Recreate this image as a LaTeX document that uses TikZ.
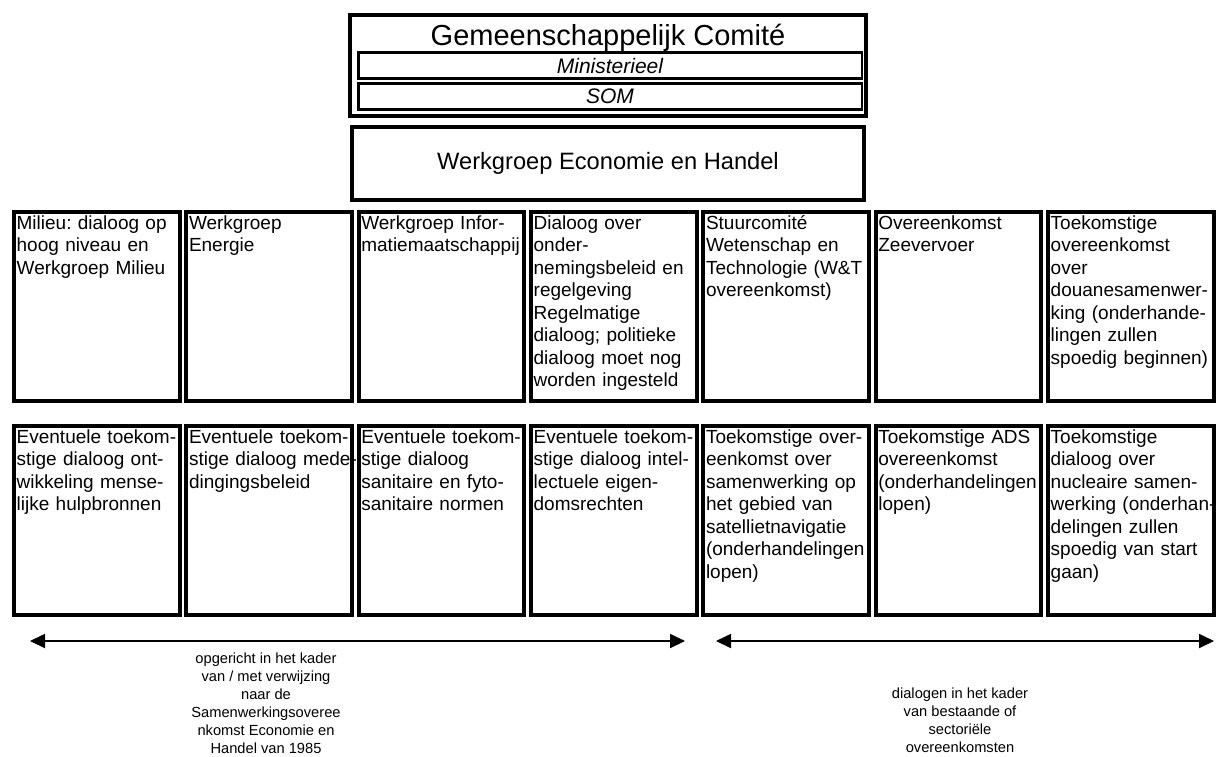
\documentclass[tikz,border=0pt]{standalone}
\usepackage{fontspec}
\setmainfont{Liberation Sans}
\usetikzlibrary{arrows.meta,positioning}

\frenchspacing

% lines of a cell, set one by one and never rebroken
\newcommand{\rows}[1]{\begin{tabular}[t]{@{}l@{}}#1\end{tabular}}

\begin{document}
\begin{tikzpicture}[
    >={Triangle[length=9pt,width=8.5pt]},
    panel/.style={
        draw,
        line width=2.4pt,
        minimum width=309.9pt,
        minimum height=60.9pt
    },
    subpanel/.style={
        draw,
        line width=1.5pt,
        minimum width=302.1pt,
        minimum height=15.5pt,
        inner sep=0pt,
        font=\fontsize{12.6}{14}\selectfont\itshape
    },
    cell/.style={
        draw,
        line width=2.4pt,
        anchor=north west,
        text width=96.2pt,
        inner xsep=1.6pt,
        inner ysep=2pt,
        text height=8.2pt,
        text depth=101.2pt,
        align=left,
        font=\fontsize{11.4}{13.5}\selectfont
    },
    note/.style={
        anchor=north,
        align=center,
        font=\fontsize{8.8}{10.8}\selectfont
    }
]

\useasboundingbox (0,0) rectangle (729.6pt,-453.6pt);

% joint committee with its two levels
\node[panel] (comite) at (364.8pt,-39.3pt) {};
\node[anchor=base, font=\fontsize{17.4}{20}\selectfont] (comitetitle)
    at ([yshift=-19.35pt]comite.north) {Gemeenschappelijk Comité};
\node[subpanel] (minister) at ([xshift=1.2pt]comite.center) {Ministerieel};
\node[subpanel, below=1.5pt of minister] (som) {SOM};

\node[panel, minimum width=307.5pt, minimum height=43.5pt,
      font=\fontsize{14.2}{16}\selectfont, below=4.2pt of comite] (handel)
    {Werkgroep Economie en Handel};

% first row
\node[cell] (m1) at (7.2pt,-126pt) {\rows{Milieu: dialoog op\\hoog niveau en\\Werkgroep Milieu}};
\node[cell, right=1.6pt of m1] (m2) {\rows{Werkgroep\\Energie}};
\node[cell, right=1.6pt of m2] (m3) {\rows{Werkgroep Infor-\\matiemaatschappij}};
\node[cell, right=1.6pt of m3] (m4) {\rows{Dialoog over\\onder-\\nemingsbeleid en\\regelgeving\\Regelmatige\\dialoog; politieke\\dialoog moet nog\\worden ingesteld}};
\node[cell, right=1.6pt of m4] (m5) {\rows{Stuurcomité\\Wetenschap en\\Technologie (W\&T\\overeenkomst)}};
\node[cell, right=1.6pt of m5] (m6) {\rows{Overeenkomst\\Zeevervoer}};
\node[cell, right=1.6pt of m6] (m7) {\rows{Toekomstige\\overeenkomst\\over\\douanesamenwer-\\king (onderhande-\\lingen zullen\\spoedig beginnen)}};

% second row
\node[cell, below=12.6pt of m1] (e1) {\rows{Eventuele toekom-\\stige dialoog ont-\\wikkeling mense-\\lijke hulpbronnen}};
\node[cell, below=12.6pt of m2] (e2) {\rows{Eventuele toekom-\\stige dialoog mede-\\dingingsbeleid}};
\node[cell, below=12.6pt of m3] (e3) {\rows{Eventuele toekom-\\stige dialoog\\sanitaire en fyto-\\sanitaire normen}};
\node[cell, below=12.6pt of m4] (e4) {\rows{Eventuele toekom-\\stige dialoog intel-\\lectuele eigen-\\domsrechten}};
\node[cell, below=12.6pt of m5] (e5) {\rows{Toekomstige over-\\eenkomst over\\samenwerking op\\het gebied van\\satellietnavigatie\\(onderhandelingen\\lopen)}};
\node[cell, below=12.6pt of m6] (e6) {\rows{Toekomstige ADS\\overeenkomst\\(onderhandelingen\\lopen)}};
\node[cell, below=12.6pt of m7] (e7) {\rows{Toekomstige\\dialoog over\\nucleaire samen-\\werking (onderhan-\\delingen zullen\\spoedig van start\\gaan)}};

% spans
\coordinate (kaderL) at (18pt,-384.6pt);
\coordinate (kaderR) at (411pt,-384.6pt);
\coordinate (sectorL) at (429.6pt,-384.6pt);
\coordinate (sectorR) at (728.4pt,-384.6pt);

\draw[<->, line width=0.7pt] (kaderL) -- (kaderR);
\draw[<->, line width=0.7pt] (sectorL) -- (sectorR);

\node[note] (kadernote) at (159.6pt,-388.2pt) {opgericht in het kader\\van / met verwijzing\\naar de\\Samenwerkingsoveree\\nkomst Economie en\\Handel van 1985};
\node[note] (sectornote) at (576pt,-409.2pt) {dialogen in het kader\\van bestaande of\\sectoriële\\overeenkomsten};

\end{tikzpicture}
\end{document}
